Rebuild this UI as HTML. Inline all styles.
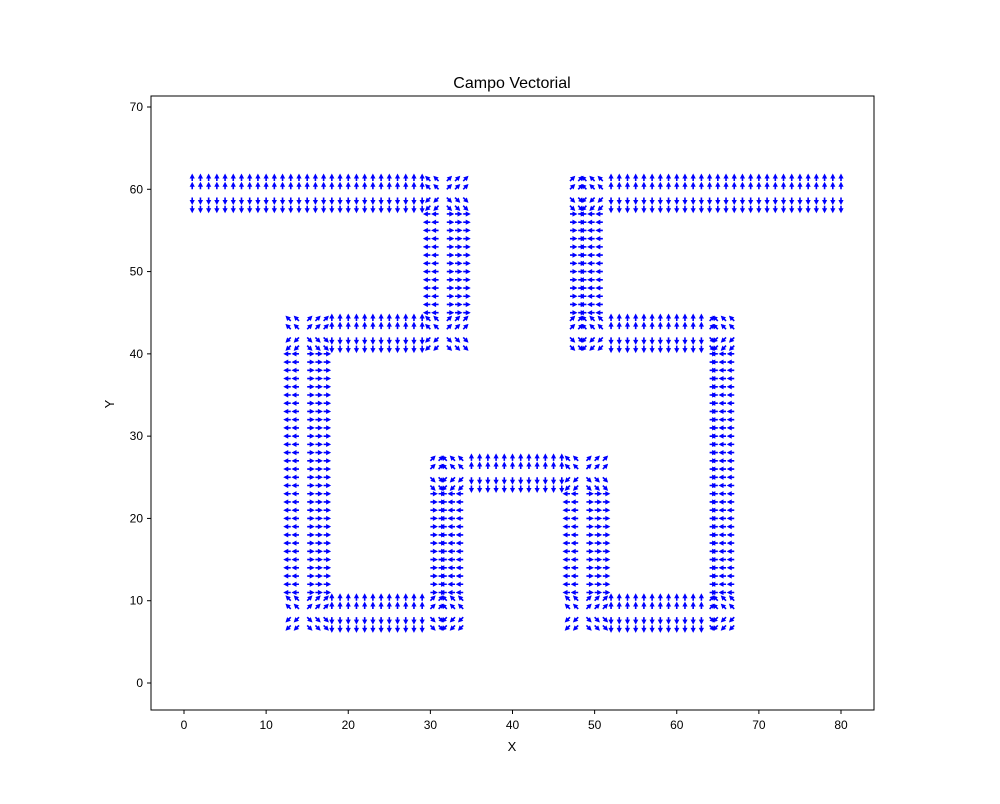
<!DOCTYPE html>
<html><head><meta charset="utf-8"><style>
body{margin:0;background:#fff;}
svg text{font-family:"Liberation Sans","DejaVu Sans",sans-serif;fill:#000;}
</style></head><body>
<svg id="chart" width="1000" height="799" xmlns="http://www.w3.org/2000/svg">
<rect width="1000" height="799" fill="#fff"/>
<text x="512" y="88" font-size="16" text-anchor="middle">Campo Vectorial</text>
<g id="arrows"></g>
<rect x="151" y="96" width="723" height="614" fill="none" stroke="#000" stroke-width="1"/>
<g id="ticks"></g>
<text x="512" y="751" font-size="13" text-anchor="middle">X</text>
<text x="114" y="404" font-size="13" text-anchor="middle" transform="rotate(-90 114 404)">Y</text>
</svg>
<script>
// Corridors: [xmin, xmax, ymin, ymax]
const corridorX0 = [1, 30, 13, 13, 13, 30, 30, 47, 47, 64, 47, 47, 47];
const corridorX1 = [34, 34, 34, 17, 34, 34, 51, 51, 67, 67, 67, 51, 80];
const corridorY0 = [58, 41, 41, 7, 7, 7, 24, 7, 7, 7, 41, 41, 58];
const corridorY1 = [61, 61, 44, 44, 10, 27, 27, 27, 10, 44, 44, 61, 61];
const corridorDir = ['h', 'v', 'h', 'v', 'h', 'v', 'h', 'v', 'h', 'v', 'h', 'v', 'h'];
const corridorSign = [1, 1, 1, 1, 1, -1, 1, 1, 1, -1, 1, -1, 1];
const xTicks = [0, 10, 20, 30, 40, 50, 60, 70, 80];
const yTicks = [0, 10, 20, 30, 40, 50, 60, 70];

const NS = 'http://www.w3.org/2000/svg';
const sx = v => 184 + v * 8.2125;
const sy = v => 683 - v * 8.2286;

const tg = document.getElementById('ticks');
xTicks.forEach(t => {
  const l = document.createElementNS(NS, 'line');
  l.setAttribute('x1', sx(t)); l.setAttribute('x2', sx(t));
  l.setAttribute('y1', 710); l.setAttribute('y2', 714);
  l.setAttribute('stroke', '#000');
  
  
  tg.appendChild(l);
  const tx = document.createElementNS(NS, 'text');
  tx.setAttribute('x', sx(t)); tx.setAttribute('y', 729);
  tx.setAttribute('font-size', '12'); tx.setAttribute('text-anchor', 'middle');
  tx.textContent = t;
  
  
  tg.appendChild(tx);
});
yTicks.forEach(t => {
  const l = document.createElementNS(NS, 'line');
  l.setAttribute('x1', 147); l.setAttribute('x2', 151);
  l.setAttribute('y1', sy(t)); l.setAttribute('y2', sy(t));
  l.setAttribute('stroke', '#000');
  
  
  tg.appendChild(l);
  const tx = document.createElementNS(NS, 'text');
  tx.setAttribute('x', 143); tx.setAttribute('y', sy(t) + 4);
  tx.setAttribute('font-size', '12'); tx.setAttribute('text-anchor', 'end');
  tx.textContent = t;
  
  
  tg.appendChild(tx);
});

// Build vectors
const pts = {};
for (let i = 0; i < corridorX0.length; i++) {
  const cx = (corridorX0[i] + corridorX1[i]) / 2, cy = (corridorY0[i] + corridorY1[i]) / 2;
  for (let x = corridorX0[i]; x <= corridorX1[i]; x++) {
    for (let y = corridorY0[i]; y <= corridorY1[i]; y++) {
      const k = x + ',' + y;
      if (!pts[k]) pts[k] = {x, y, u: 0, v: 0};
      if (corridorDir[i] === 'h') pts[k].v += corridorSign[i] * (y >= cy ? 1 : -1);
      else pts[k].u += corridorSign[i] * (x > cx - 0.6 ? 1 : -1);
    }
  }
}
const ag = document.getElementById('arrows');
Object.values(pts).forEach(p => {
  let u = p.u, v = p.v;
  let m = Math.hypot(u, v);
  if (m < 1e-6) { u = 1; v = 1; m = Math.SQRT2; }
  u /= m; v /= m;
  const L = 7.5, hl = 5, hw = 2.6, sw = 0.8;
  const x0 = sx(p.x), y0 = sy(p.y);
  const dx = u, dy = -v, nx = -dy, ny = dx;
  const bx = x0 + dx * (L - hl), by = y0 + dy * (L - hl);
  const tx = x0 + dx * L, ty = y0 + dy * L;
  const P = [
    [x0 + nx * sw, y0 + ny * sw], [bx + nx * sw, by + ny * sw], [bx + nx * hw, by + ny * hw],
    [tx, ty], [bx - nx * hw, by - ny * hw], [bx - nx * sw, by - ny * sw], [x0 - nx * sw, y0 - ny * sw]
  ];
  const poly = document.createElementNS(NS, 'polygon');
  poly.setAttribute('points', P.map(q => q[0].toFixed(2) + ',' + q[1].toFixed(2)).join(' '));
  poly.setAttribute('fill', '#0000ff');
  
  
  ag.appendChild(poly);
});
</script>
</body></html>
